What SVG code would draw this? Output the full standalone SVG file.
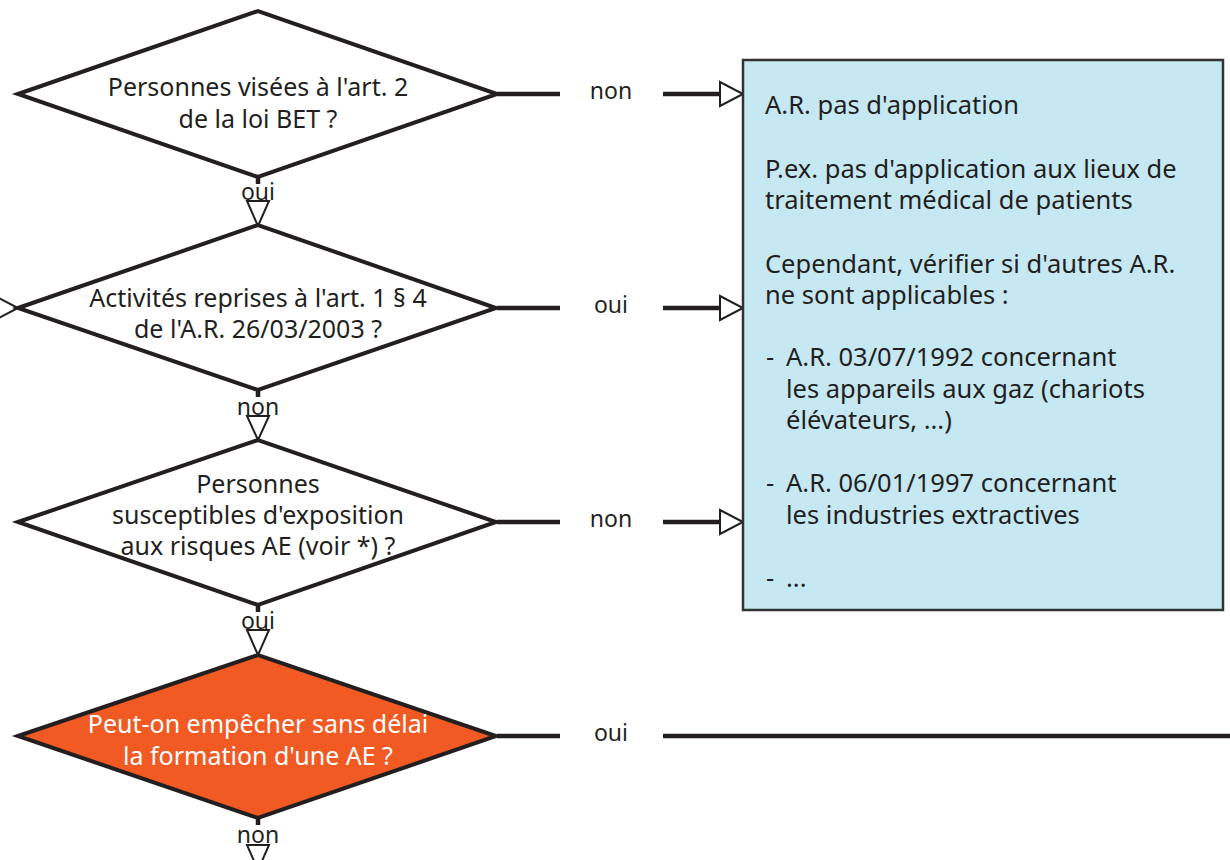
<svg xmlns="http://www.w3.org/2000/svg" width="1230" height="860" viewBox="0 0 1230 860">
<style>
.dia{fill:#ffffff;stroke:#231f20;stroke-width:4;stroke-linejoin:miter}
.dia.hot{fill:#f15a22}
.t{font-family:"Noto Sans","Open Sans","DejaVu Sans",sans-serif;font-size:25px;fill:#231f20;text-anchor:middle}
.t.w{fill:#ffffff}
.bt{font-family:"Noto Sans","Open Sans","DejaVu Sans",sans-serif;font-size:25.5px;fill:#231f20}
.lb{font-family:"Noto Sans","Open Sans","DejaVu Sans",sans-serif;font-size:23px;fill:#231f20;text-anchor:middle}
.ln{stroke:#231f20;stroke-width:4.5;fill:none}
.ah{fill:#ffffff;stroke:#231f20;stroke-width:2}
.box{fill:#c6e8f3;stroke:#333333;stroke-width:2.5}
</style>
<rect width="1230" height="860" fill="#ffffff"/>
<g id="connectors">
  <line class="ln" x1="258" y1="177" x2="258" y2="184"/>
  <polygon class="ah" points="247,201 269,201 258,226"/>
  <text class="lb" x="258" y="200">oui</text>
  <line class="ln" x1="258" y1="390" x2="258" y2="397"/>
  <polygon class="ah" points="247,416 269,416 258,440"/>
  <text class="lb" x="258" y="415">non</text>
  <line class="ln" x1="258" y1="605" x2="258" y2="612"/>
  <polygon class="ah" points="247,630 269,630 258,655"/>
  <text class="lb" x="258" y="629">oui</text>
  <line class="ln" x1="258" y1="818" x2="258" y2="825"/>
  <polygon class="ah" points="247,845 269,845 258,870"/>
  <text class="lb" x="258" y="843">non</text>
  <polygon class="ah" points="-5,296 -5,320 18,308"/>
  <line class="ln" x1="497" y1="94" x2="560" y2="94"/>
  <line class="ln" x1="663" y1="94" x2="722" y2="94"/>
  <polygon class="ah" points="720,82 720,106 743,94"/>
  <text class="lb" x="611" y="99">non</text>
  <line class="ln" x1="497" y1="308" x2="560" y2="308"/>
  <line class="ln" x1="663" y1="308" x2="722" y2="308"/>
  <polygon class="ah" points="720,296 720,320 743,308"/>
  <text class="lb" x="611" y="313">oui</text>
  <line class="ln" x1="497" y1="522" x2="560" y2="522"/>
  <line class="ln" x1="663" y1="522" x2="722" y2="522"/>
  <polygon class="ah" points="720,510 720,534 743,522"/>
  <text class="lb" x="611" y="527">non</text>
  <line class="ln" x1="497" y1="736" x2="560" y2="736"/>
  <line class="ln" x1="663" y1="736" x2="1230" y2="736"/>
  <text class="lb" x="611" y="741">oui</text>
</g>
<g id="q1">
  <polygon class="dia" points="18,94 258,11 497,94 258,177"/>
  <text class="t" x="258" y="96">Personnes visées à l'art. 2</text>
  <text class="t" x="258" y="128">de la loi BET ?</text>
</g>
<g id="q2">
  <polygon class="dia" points="18,308 258,225 496,308 258,390"/>
  <text class="t" x="258" y="307">Activités reprises à l'art. 1 § 4</text>
  <text class="t" x="258" y="338">de l'A.R. 26/03/2003 ?</text>
</g>
<g id="q3">
  <polygon class="dia" points="18,522 258,440 496,522 258,605"/>
  <text class="t" x="258" y="493">Personnes</text>
  <text class="t" x="258" y="524">susceptibles d'exposition</text>
  <text class="t" x="258" y="555">aux risques AE (voir *) ?</text>
</g>
<g id="q4">
  <polygon class="dia hot" points="18,736 258,655 496,736 258,818"/>
  <text class="t w" x="258" y="733">Peut-on empêcher sans délai</text>
  <text class="t w" x="258" y="765">la formation d'une AE ?</text>
</g>
<g id="result">
  <rect class="box" x="743" y="60" width="480" height="550"/>
  <text class="bt" x="765" y="114">A.R. pas d'application</text>
  <text class="bt" x="765" y="178">P.ex. pas d'application aux lieux de</text>
  <text class="bt" x="765" y="209">traitement médical de patients</text>
  <text class="bt" x="765" y="273">Cependant, vérifier si d'autres A.R.</text>
  <text class="bt" x="765" y="304">ne sont applicables :</text>
  <text class="bt" y="366"><tspan x="766">-</tspan> <tspan x="786">A.R. 03/07/1992 concernant</tspan></text>
  <text class="bt" x="786" y="398">les appareils aux gaz (chariots</text>
  <text class="bt" x="786" y="429">élévateurs, ...)</text>
  <text class="bt" y="492"><tspan x="766">-</tspan> <tspan x="786">A.R. 06/01/1997 concernant</tspan></text>
  <text class="bt" x="786" y="524">les industries extractives</text>
  <text class="bt" y="587"><tspan x="766">-</tspan> <tspan x="786">...</tspan></text>
</g>
</svg>
